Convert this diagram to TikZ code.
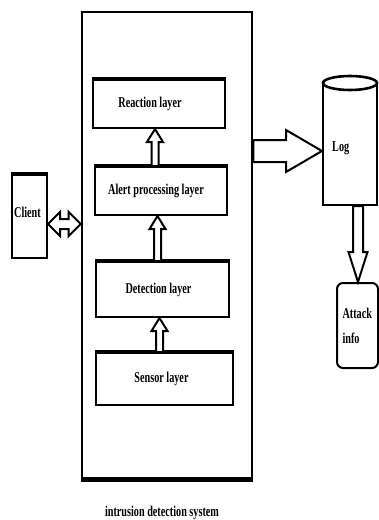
\documentclass[tikz,border=0pt]{standalone}
\usepackage{fontspec}
\setmainfont{Liberation Serif}[FakeStretch=0.68]
\usetikzlibrary{calc,positioning}
\tikzset{mainbox/.style={draw,line width=2.6pt,minimum width=170pt,minimum height=466pt},
layerbox/.style={draw,line width=2pt,inner sep=0pt,font=\fontsize{15}{17}\selectfont\bfseries},
topedge/.style={line width=4.5pt,line cap=butt},
fatarrow/.style={draw,line width=2pt,fill=white,line join=miter},
note/.style={font=\fontsize{15}{18}\selectfont\bfseries,align=left,inner sep=0pt}}
% hollow block arrows: shaft half width, head half width, head length, tail, tip
\newcommand{\hollowarrow}[5]{%
 \coordinate (neck) at ($(#5)!#3!(#4)$);
 \draw[fatarrow] ($(#4)!#1!90:(#5)$) -- ($(neck)!#1!90:(#5)$) -- ($(neck)!#2!90:(#5)$) -- (#5)
  -- ($(neck)!#2!-90:(#5)$) -- ($(neck)!#1!-90:(#5)$) -- ($(#4)!#1!-90:(#5)$) -- cycle;}
\newcommand{\hollowdouble}[5]{%
 \coordinate (necka) at ($(#4)!#3!(#5)$);
 \coordinate (neckb) at ($(#5)!#3!(#4)$);
 \draw[fatarrow] (#4) -- ($(necka)!#2!90:(#5)$) -- ($(necka)!#1!90:(#5)$) -- ($(neckb)!#1!90:(#5)$)
  -- ($(neckb)!#2!90:(#5)$) -- (#5) -- ($(neckb)!#2!-90:(#5)$) -- ($(neckb)!#1!-90:(#5)$)
  -- ($(necka)!#1!-90:(#5)$) -- ($(necka)!#2!-90:(#5)$) -- cycle;}

\begin{document}
\begin{tikzpicture}[x=1pt,y=-1pt]
\useasboundingbox (0,0) rectangle (378,520);
% intrusion detection system
\node[mainbox] (ids) at (167,245) {};
\draw[line width=5pt] (ids.south west) -- (ids.south east);
\node[layerbox,minimum width=132pt,minimum height=48pt] (reaction) at (159,104) {\hspace*{-18pt}Reaction layer};
\node[layerbox,minimum width=132pt,minimum height=48pt] (alert) at (161,191) {\hspace*{-10pt}Alert processing layer};
\node[layerbox,minimum width=133pt,minimum height=55pt] (detection) at (162.5,289.5) {\hspace*{-8pt}Detection layer};
\node[layerbox,minimum width=137pt,minimum height=52pt] (sensor) at (164.5,379) {\hspace*{-6pt}Sensor layer};
\foreach \n in {reaction,alert,detection,sensor}
 \draw[topedge] (\n.north west) -- (\n.north east);
\coordinate (up1) at ($(alert.north)+(-6,0)$);
\coordinate (up2) at ($(detection.north)+(-5,0)$);
\coordinate (up3) at ($(sensor.north)+(-5,0)$);
\hollowarrow{3.5pt}{8pt}{13pt}{up1}{up1 |- reaction.south}
\hollowarrow{3.5pt}{8pt}{13pt}{up2}{up2 |- alert.south}
\hollowarrow{3.5pt}{8pt}{13pt}{up3}{up3 |- detection.south}
\node[note] (idslabel) at (162,513) {intrusion detection system};
% client
\node[draw,line width=2pt,minimum width=35pt,minimum height=83pt] (client) at (29.5,216.5) {};
\draw[topedge] (client.north west) -- (client.north east);
\node[note] (clienttext) at ($(client.center)+(-2,-4)$) {Client};
\coordinate (c1) at ($(client.east)+(0,7.5)$);
\hollowdouble{5pt}{12pt}{12pt}{c1}{c1 -| ids.west}
% log
\node[draw,line width=2pt,minimum width=54pt,minimum height=121pt] (log) at (350,144.5) {};
\draw[line width=2.6pt,fill=white] (log.north) ellipse[x radius=27,y radius=7];
\node[note,anchor=west] (logtext) at (332,148) {Log};
\coordinate (logtip) at ($(log.west)+(0,6.5)$);
\hollowarrow{11pt}{21pt}{36pt}{ids.east |- logtip}{logtip}
% attack info
\node[draw,line width=2pt,rounded corners=6pt,minimum width=41pt,minimum height=85pt,
 text width=30pt,align=left,inner sep=0pt,font=\fontsize{15}{25}\selectfont\bfseries] (attack) at (357.5,325.5) {Attack\\info};
\coordinate (logout) at ($(log.south)+(8,0)$);
\hollowarrow{5pt}{9.5pt}{30pt}{logout}{logout |- attack.north}
\end{tikzpicture}
\end{document}
